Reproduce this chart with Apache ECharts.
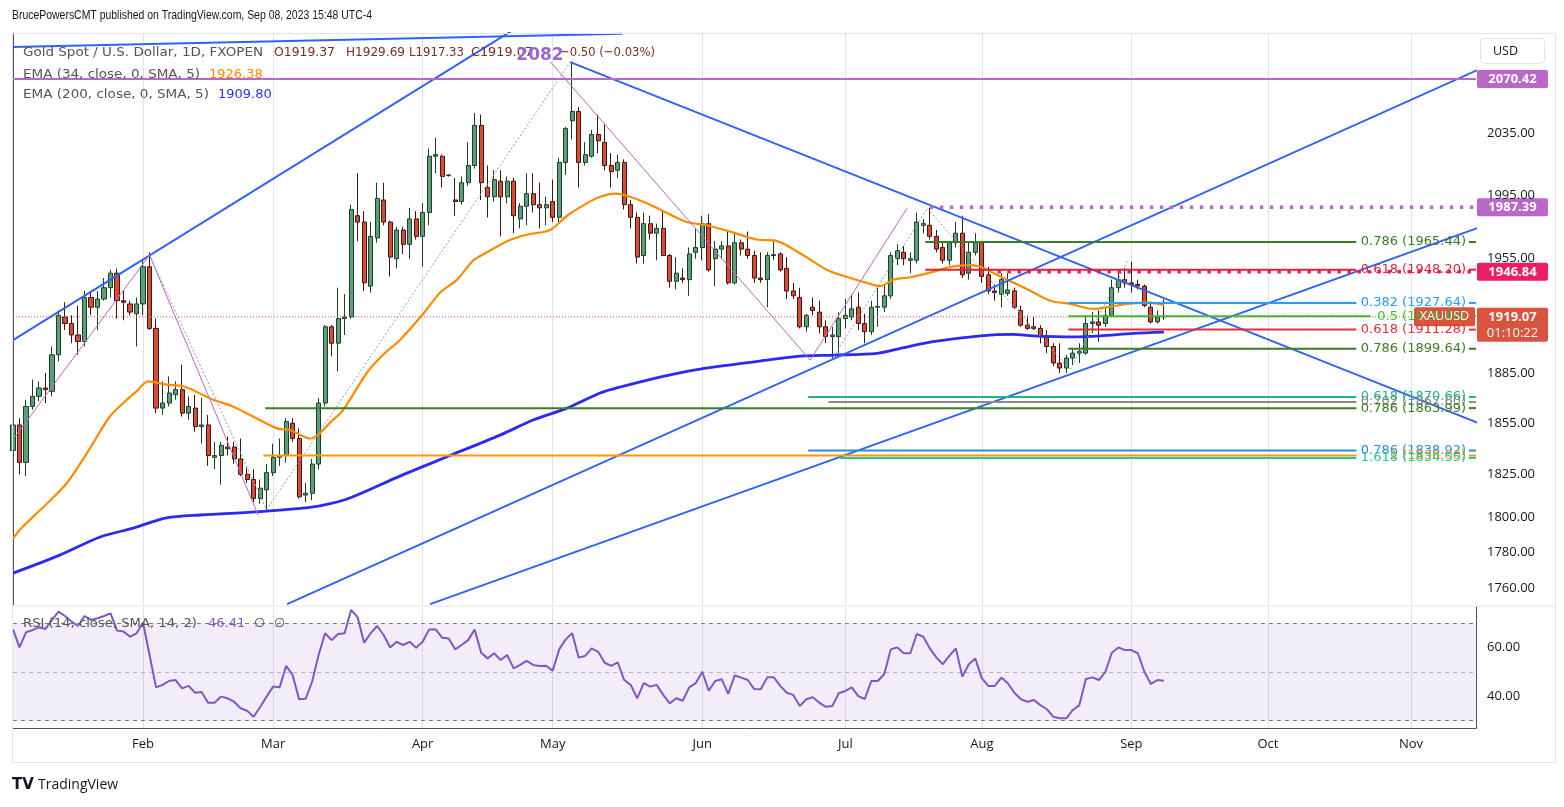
<!DOCTYPE html>
<html><head><meta charset="utf-8">
<script src="https://cdn.jsdelivr.net/npm/echarts@6/dist/echarts.min.js"></script>
<style>html,body{margin:0;padding:0;background:#fff}#c{width:1564px;height:807px}</style>
</head><body><div id="c"></div><script>
// ---------------- DATA ----------------
const categories = [];
(function(){ const d = new Date(Date.UTC(2023,0,4)); while(categories.length<226){ const w=d.getUTCDay(); if(w!==0&&w!==6) categories.push(d.toISOString().slice(0,10)); d.setUTCDate(d.getUTCDate()+1);} })();
const MONTHS=['Jan','Feb','Mar','Apr','May','Jun','Jul','Aug','Sep','Oct','Nov','Dec'];

const openP = [1839,1854,1832,1865,1871,1876,1874,1896,1919,1915,1908,1904,1931,1925,1930,1937,1946,1929,1927,1921,
1927,1950,1912,1864,1867,1872,1875,1861,1864,1853,1854,1835,1836,1841,1841,1834,1825,1822,1811,1816,
1826,1835,1836,1855,1846,1813,1814,1831,1867,1913,1903,1918,1919,1982,1978,1938,1968,1992,1978,1955,
1973,1964,1980,1969,1984,2020,2020,2007.5,1992,1991,2003,2014,2040,2000,1994,2004,1994,2004,1980,1988,
1996,1989,1987,1991,1981,2016,2043,2049,2016,2020,2034,2029,2014,2011,2016,1989,1981,1957,1977,1971,
1974,1957,1941,1943,1942,1959,1962,1977,1955,1961,1963,1940,1965,1961,1957,1943,1942,1957,1958,1949,
1935,1931,1913,1925,1922,1913,1907,1907,1918,1919,1925,1915,1910,1925,1925,1932,1955,1959,1954,1954,
1976,1976,1969,1962,1954,1965,1971,1946,1959,1965,1945,1935,1933,1933.5,1935,1923,1914,1913,1912,1907,
1901,1891,1888,1894,1897,1897,1915,1916,1915,1920,1937,1942,1940,1939,1938,1925,1916,1919.37];
const highP = [1865,1858,1869,1881,1880,1885,1901,1923,1928,1920,1926,1935,1935,1935,1943,1948,1949,1935,1929,1931,
1954,1959,1918,1880,1883,1880,1890,1871,1872,1870,1860,1844,1844,1847,1844,1846,1829,1828,1822,1831,
1843,1846,1858,1858,1852,1820,1834,1870,1914,1914,1937,1933,1989,2009,1985,1978,2003,2003,1979,1975,
1975,1987,1985,1990,2025,2032,2021,2008.5,2006,2007,2029,2048,2047,2014,2011,2011,2007,2006,1990,2009,
2009,2003,1994,2005,2019,2039,2082,2052,2029,2037,2047,2041,2022,2021,2018,1992,1984,1984,1982,1977,
1985,1958,1956,1949,1962,1974,1982,1983,1966,1966,1973,1971,1967,1972,1960,1959,1959,1967,1959,1956,
1940,1937,1921,1931,1929,1917,1913,1922,1930,1933,1934,1921,1929,1937,1939,1959,1964,1963,1959,1984,
1980,1987,1973,1966,1966,1978,1982,1966,1971,1966,1950,1939,1946,1946,1937,1926,1920,1919,1914,1911,
1903,1903,1896,1900,1903,1920,1922,1923,1925,1942,1946,1949,1953,1942,1939,1928,1923,1929.69];
const lowP = [1834,1825,1824,1863,1868,1867,1871,1892,1911,1903,1896,1901,1920,1911,1929,1931,1918,1917,1920,1901,
1920,1911,1861,1860,1865,1869,1859,1857,1850,1843,1830,1828,1819,1836,1831,1824,1820,1809,1808,1804,
1824,1830,1832,1844,1811,1809,1810,1828,1865,1895,1886,1908,1918,1966,1935,1934,1965,1976,1944,1949,
1958,1955,1967,1950,1976,2009,2000,2007,1982,1989,2001,2012,1992,1981,1991,1969,1990,1971,1974,1976,
1984,1974,1976,1978,1978,2008,2031,2000,2014,2019,2022,2011,2000,2006,1986,1974,1952,1952,1967,1954,
1957,1937,1936,1940,1932,1955,1954,1947,1938,1955,1939,1939,1957,1955,1940,1940,1925,1954,1947,1930,
1930,1912,1910,1920,1909,1903,1894,1897,1912,1917,1911,1903,1908,1913,1922,1930,1951,1951,1946,1952,
1971,1967,1959,1952,1951,1962,1943,1942,1957,1940,1933,1929,1925,1932,1924,1913,1911,1911,1903,1897,
1889,1885,1885,1890,1891,1896,1909,1904,1913,1919,1934,1937,1934,1936,1925,1915,1915,1917.33];
const closeP = [1854,1832,1865,1871,1876,1875,1896,1920,1915,1908,1904,1931,1925,1930,1937,1946,1929,1928,1922,1927,
1950,1912,1864,1867,1873,1875,1861,1865,1853,1854,1836,1836,1842,1840,1834,1825,1822,1811,1817,1826,
1835,1836,1856,1846,1812,1814,1831,1867,1913,1903,1918,1919,1986,1978,1940,1969,1993,1978,1956,1973,
1964,1980,1969,1984,2020,2021,2007,2008,1991,2003,2014,2040,2003,1994,2005,1994,2004,1982,1988,1996,
1989,1987,1989,1981,2016,2038,2049,2016,2021,2034,2030,2014,2010,2016,1989,1981,1956,1977,1971,1974,
1957,1941,1946,1942,1958,1962,1977,1948,1961,1963,1940,1965,1961,1957,1943,1942,1957,1957.5,1948,1935,
1932,1913,1920,1923,1913,1907,1908,1918,1920,1924,1915,1910,1925,1925.5,1932,1957,1960,1955,1955,1978,
1977,1969,1961,1954,1965,1971,1945,1959,1965,1944,1935,1934,1942,1935.6,1925,1914,1912,1912,1907,1901,
1891,1888,1894,1897,1898,1915,1916,1914,1920,1937,1942,1940,1939,1938,1926,1916,1919,1919.07];
const rsiVals = [67.5,60.1,66.3,67.2,68.4,67.7,71.4,74.8,73.0,70.7,68.9,73.0,71.4,72.1,73.0,74.1,67.0,66.6,64.5,65.9,
70.2,57.0,43.7,44.7,46.3,46.7,43.3,44.3,41.5,41.8,37.4,37.4,39.9,39.2,37.8,35.1,34.1,31.6,35.5,39.9,
44.0,43.7,52.5,48.8,38.8,39.0,46.0,57.0,65.9,63.1,65.6,65.9,75.5,72.5,62.0,65.9,68.9,65.2,60.1,62.4,
61.1,62.4,60.0,62.4,67.5,67.5,64.1,63.8,59.3,61.1,63.1,67.5,57.9,55.6,57.7,54.9,57.0,51.5,52.9,54.6,
52.9,52.5,52.6,50.5,59.3,63.4,65.9,55.9,56.6,59.7,58.3,53.8,52.5,54.0,46.7,44.7,39.2,45.4,44.0,44.7,
40.6,37.1,39.2,38.2,43.7,45.4,50.1,42.3,46.3,47.0,41.0,48.6,47.7,46.7,43.0,42.9,47.8,47.8,44.3,41.5,
40.6,36.0,38.8,39.6,37.4,35.7,36.0,41.3,42.2,43.7,40.1,38.9,46.3,46.3,49.2,59.3,60.1,57.7,57.7,65.6,
64.5,59.7,56.0,53.2,56.6,59.7,48.1,53.2,55.5,47.4,44.3,44.3,47.7,45.4,41.5,38.8,37.8,38.5,36.4,34.7,
31.6,31.0,31.0,34.4,36.4,47.1,47.8,46.7,50.1,57.9,60.1,59.0,59.0,57.7,50.1,45.1,46.7,46.41];
// EMA lines read at sampled bars: [bar index, value]
const ema34Pts = [[0,1788],[1.3,1794],[5.2,1808],[8.3,1820],[11.3,1837],[14.9,1859],[17.5,1869],[19,1874],[20.8,1880],[23.6,1878],[26.2,1877],[30.8,1869],[33.8,1865],[36.9,1859],[40.6,1852],[42.6,1851],[45.7,1846],[49.2,1857],[50.8,1863],[54.4,1885],[56.9,1896],[59.5,1905],[63.1,1921],[65.7,1934],[68.3,1942],[70.8,1954],[72.9,1959],[76,1966],[79,1970],[82.6,1973],[85.2,1982],[88.3,1990],[90.3,1994],[92.6,1996],[94.9,1994],[98,1989],[99.5,1986],[103.6,1978],[106.7,1976],[110.3,1972],[114.4,1967],[117.5,1966],[121.6,1957],[125.2,1948],[128.8,1943],[131.3,1940],[133.4,1938],[135.4,1942],[138,1943.5],[141.6,1947],[144.2,1950],[147.2,1951],[148.8,1950],[150.8,1946],[153.4,1941],[156,1936],[159.5,1929],[162.6,1927],[166.2,1924],[168.3,1925],[171.3,1927],[174.4,1928],[177,1926.38]];
const ema200Pts = [[0,1768.4],[7.2,1778.6],[13.4,1788.9],[18.5,1794],[23.6,1799.8],[28.8,1801.5],[38,1803.4],[44.2,1805.3],[47.2,1806.7],[51.8,1811.3],[59.5,1824],[67.2,1836],[74.9,1848],[80,1856.9],[85.2,1864],[90.3,1873],[93.4,1876.6],[100,1883],[105.7,1887.4],[114.9,1892.2],[121.1,1895.2],[126.2,1895.8],[132.9,1896.9],[136.5,1899.9],[141.5,1903.9],[148.8,1907.5],[153.8,1908.4],[156.9,1907.5],[163.1,1906.9],[167.2,1907.5],[172.3,1909],[177,1909.8]];
// drawings: [bar index, price]
const trendTopFlat = [[0,2091.6],[93.7,2100.5]];
const trendUpperLeft = [[0,1904.9],[80,2111.4]];
const trendDown = [[85.7,2081.6],[225.2,1855.4]];
const trendUpA = [[42.15,1751.0],[225.2,2076.3]];
const trendUpB = [[64.15,1751.0],[225.2,1974.2]];
const zigMagenta1 = [[0.3,1846.9],[21.0,1957.3],[37.7,1801.5]];
const zigMagenta2 = [[82.6,2082],[122.6,1892.8],[137.5,1986.7]];
const zigGray1 = [[21.0,1957.3],[39.0,1804.5],[85.7,2081.6]];
const zigGray2 = [[126.2,1894.8],[140.6,1986.7],[162.6,1886.8],[171.5,1954.2]];
const fibValues = [1965.44,1948.20,1927.64,1919.46,1911.28,1899.64,1870.66,1867.60,1863.99,1838.92,1836.00,1834.55];
const fibRatios = ['0.786','0.618','0.382','0.5','0.618','0.786','0.618','0.702','0.786','0.786','1','1.618'];
const fibStart = [140.3,140.3,162.3,162.3,162.3,162.3,122.3,125.4,38.8,122.3,38.5,127.2];
const level2070 = 2070.42, level1987 = 1987.39, level1946 = 1946.84, lastPrice = 1919.07;
const priceTicks = [2035,1995,1955,1885,1855,1825,1800,1780,1760];
const rsiTicks = [60,40];
const swingHigh = 2082;

// ---------------- STYLE ----------------
const FONT = "'Open Sans', 'Liberation Sans', sans-serif";
const DJ = "'DejaVu Sans', sans-serif";
const fibColors = ['#3b7d23','#d9253b','#2b9cf0','#2dc72d','#e0303a','#3b7d23','#22b38a','#8a8a8a','#3b7d23','#2a8fd8','#ff9800','#2ec4a0'];
const BLUE = '#2f62f5', MAG = '#b968c7';

const isMonthStart = i => i>0 && categories[i].slice(5,7)!==categories[i-1].slice(5,7);
const candleData = openP.map((o,i)=>[o, closeP[i], lowP[i], highP[i]]);

function seg(data, color, width, type, z){
  return {type:'line', xAxisIndex:2, yAxisIndex:0, data, symbol:'none', silent:true, clip:true, z:z||4,
    lineStyle:{color, width, type:type||'solid', cap:'butt'}};
}
const series = [];
series.push({type:'candlestick', xAxisIndex:0, yAxisIndex:0, data:candleData, barWidth:4.6, z:2, clip:true,
  itemStyle:{color:'#5a9f78', color0:'#d74b37', borderColor:'#1d3f2a', borderColor0:'#3d1710', borderWidth:1}});
series.push(seg(ema34Pts,'#fb8c00',2.2,'solid',3)); series[1].smooth=0.3;
series.push(seg(ema200Pts,'#2a2af5',2.8,'solid',3)); series[2].smooth=0.3;
[trendTopFlat,trendUpperLeft,trendDown,trendUpA,trendUpB].forEach(d=>series.push(seg(d,BLUE,2)));
series.push(seg(zigMagenta1,MAG,1));
series.push(seg(zigMagenta2,MAG,1));
series.push(seg(zigGray1,'#9a9a9a',1,[2,2]));
series.push(seg(zigGray2,'#9a9a9a',1,[2,2]));
series.push(seg([[0,level2070],[225,level2070]],MAG,2));
series.push(seg([[141,level1987],[225,level1987]],MAG,3.5,[3.5,6.5]));
fibValues.forEach((v,k)=>{
  const endIdx = fibRatios[k]==='0.5' ? 208.8 : 206.6;
  series.push(seg([[fibStart[k],v],[endIdx,v]],fibColors[k],2));
  series.push(seg([[223.9,v],[225,v]],fibColors[k],2));
});
series.push(seg([[151.4,level1946],[225,level1946]],'#e91e63',3.5,[3.5,6.5],5));
series.push(seg([[0,lastPrice],[225,lastPrice]],'#e0533e',1,[1,2],5));
series.push({type:'line', xAxisIndex:1, yAxisIndex:1, data:rsiVals, symbol:'none', silent:true, z:5,
  lineStyle:{color:'#7e57c2', width:2},
  markArea:{silent:true, itemStyle:{color:'rgba(126,87,194,0.10)'}, data:[[{yAxis:70},{yAxis:30}]]},
  markLine:{silent:true, symbol:['none','none'], label:{show:false},
    data:[{yAxis:70, lineStyle:{color:'#787b86',type:[4,4],width:1}},{yAxis:50, lineStyle:{color:'#b2b5be',type:[4,4],width:1}},{yAxis:30, lineStyle:{color:'#787b86',type:[4,4],width:1}}]}});

const option = {
  animation:false, backgroundColor:'#ffffff',
  grid:[{left:13, top:33, width:1463, height:572},{left:13, top:607, width:1463, height:121}],
  xAxis:[
    {type:'category', gridIndex:0, data:categories, boundaryGap:false, axisLine:{show:false}, axisTick:{show:false}, axisLabel:{show:false},
      splitLine:{show:true, interval:(i)=>isMonthStart(i), lineStyle:{color:'#dfe2e9', width:1}}},
    {type:'category', gridIndex:1, data:categories, boundaryGap:false, axisLine:{show:true, lineStyle:{color:'#50535e'}}, axisTick:{show:false},
      axisLabel:{show:true, interval:(i)=>isMonthStart(i), formatter:(v)=>MONTHS[+v.slice(5,7)-1], color:'#131722', fontSize:13, fontFamily:FONT, margin:10},
      splitLine:{show:true, interval:(i)=>isMonthStart(i), lineStyle:{color:'#dfe2e9', width:1}}},
    {type:'value', gridIndex:0, min:0, max:225, show:false}
  ],
  yAxis:[
    {type:'log', logBase:10, gridIndex:0, min:1750.5, max:2101, position:'right', axisLine:{show:true, lineStyle:{color:'#50535e'}}, axisTick:{show:false}, axisLabel:{show:false}, splitLine:{show:false}},
    {type:'value', gridIndex:1, min:27, max:76.7, position:'right', axisLine:{show:true, lineStyle:{color:'#50535e'}}, axisTick:{show:false}, axisLabel:{show:false}, splitLine:{show:false}}
  ],
  series
};

const chart = echarts.init(document.getElementById('c'), null, {renderer:'canvas', width:1564, height:807});
chart.setOption(option);

const py = v => chart.convertToPixel({yAxisIndex:0}, v);
const ry = v => chart.convertToPixel({yAxisIndex:1}, v);
const mctx = document.createElement('canvas').getContext('2d');
const G = [];
function txt(x,y,t,fill,size,opts){
  opts=opts||{};
  const font=(opts.bold?'bold ':'')+size+'px '+(opts.family||FONT);
  const el={type:'text', x, y, z:100, silent:true, style:{text:t, fill, font,
    align:opts.align||'left', verticalAlign:'middle', textAlign:opts.align||'left', textVerticalAlign:'middle'}};
  if(opts.fitW){ mctx.font=font; const w=mctx.measureText(t).width; if(w>0) el.scaleX=opts.fitW/w; }
  G.push(el);
}
function rect(x,y,w,h,fill,stroke,r){ G.push({type:'rect', z:99, silent:true, shape:{x,y,width:w,height:h,r:r||0}, style:{fill:fill||'none', stroke:stroke||'none', lineWidth:1}}); }
function line(x1,y1,x2,y2,c,w){ G.push({type:'line', z:98, silent:true, shape:{x1,y1,x2,y2}, style:{stroke:c, lineWidth:w||1}}); }

// frame
line(12.5,33.5,1555.5,33.5,'#e0e3eb'); line(12.5,33.5,12.5,762.5,'#e0e3eb'); line(1555.5,33.5,1555.5,762.5,'#e0e3eb');
line(12.5,762.5,1555.5,762.5,'#e0e3eb'); line(12.5,606,1555.5,606,'#e0e3eb');
// header
txt(12,15,'BrucePowersCMT published on TradingView.com, Sep 08, 2023 15:48 UTC-4','#131722',13,{family:"'Liberation Sans', sans-serif", fitW:360});
txt(23,53,'Gold Spot / U.S. Dollar, 1D, FXOPEN','#555555',13,{family:DJ, fitW:240});
const ohlcCol = '#7b2c22';
txt(274,53,'O1919.37',ohlcCol,13,{family:DJ, fitW:61}); txt(346,53,'H1929.69',ohlcCol,13,{family:DJ, fitW:59}); txt(409,53,'L1917.33',ohlcCol,13,{family:DJ, fitW:55}); txt(471,53,'C1919.07',ohlcCol,13,{family:DJ, fitW:62}); txt(560,53,'\u22120.50 (\u22120.03%)',ohlcCol,13,{family:DJ, fitW:95});
txt(23,75,'EMA (34, close, 0, SMA, 5)','#555555',13,{family:DJ, fitW:177}); txt(209,75,'1926.38','#fb8c00',13,{family:DJ});
txt(23,95,'EMA (200, close, 0, SMA, 5)','#555555',13,{family:DJ, fitW:186}); txt(218,95,'1909.80','#3030f0',13,{family:DJ});
txt(23,624,'RSI (14, close, SMA, 14, 2)','#555555',13,{family:DJ, fitW:174}); txt(208,624,'46.41','#7e57c2',13,{family:DJ}); txt(254,624,'\u2205','#555555',13,{family:DJ}); txt(274,624,'\u2205','#555555',13,{family:DJ});
txt(540,56,String(swingHigh),'#9a68cf',17,{bold:true, align:'center', family:DJ});
// right axis labels
priceTicks.forEach(v=>txt(1487,py(v),v.toFixed(2),'#131722',13));
rsiTicks.forEach(v=>txt(1487,ry(v),v.toFixed(2),'#131722',13));
// fib labels
fibValues.forEach((v,k)=>txt(1466,py(v),fibRatios[k]+' ('+v.toFixed(2)+')',fibColors[k],13,{align:'right', family:DJ}));
// USD box
rect(1480.5,38.5,64,25,'#ffffff','#e0e3eb',4); txt(1493,51,'USD','#131722',12.5);
// price tags
function tag(v,col,extra){ const y=py(v); const h=extra?34:18; rect(1477,y-9,71,h,col,null,2); txt(1512.5,y,v.toFixed(2),'#ffffff',13,{bold:true,align:'center'}); if(extra) txt(1512.5,y+16,extra,'#ffffff',13,{align:'center'}); }
tag(level2070,MAG); tag(level1987,MAG); tag(level1946,'#e91e63'); tag(lastPrice,'#d9533f','01:10:22');
{ const y=py(lastPrice); rect(1414,y-9.5,61,19,'#d9533f',null,2); txt(1444.5,y,'XAUUSD','#ffffff',12.5,{align:'center'}); }
// logo
txt(12,785,'TV','#131722',15,{bold:true,family:DJ});
txt(38,785,'TradingView','#131722',14);
chart.setOption({graphic:G});
</script></body></html>
